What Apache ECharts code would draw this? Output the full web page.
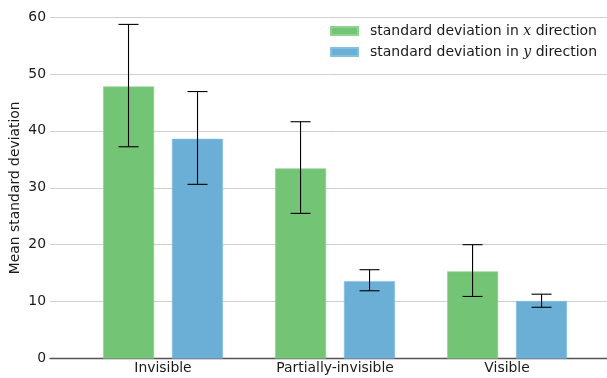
<!DOCTYPE html>
<html><head><meta charset="utf-8">
<script src="https://cdn.jsdelivr.net/npm/echarts@6/dist/echarts.min.js"></script>
<style>html,body{margin:0;padding:0;background:#fff}#c{width:607px;height:378px}</style>
</head><body><div id="c"></div>
<script>
const categories = ['Invisible', 'Partially-invisible', 'Visible'];
const meanX = [47.8, 33.4, 15.3];
const meanY = [38.6, 13.6, 10.1];
const errLowX = [37.2, 25.5, 10.9];
const errHighX = [58.7, 41.6, 20.0];
const errLowY = [30.6, 11.9, 9.0];
const errHighY = [46.9, 15.6, 11.3];
const yTicks = [0, 10, 20, 30, 40, 50, 60];

const FONT = 'DejaVu Sans';
const chart = echarts.init(document.getElementById('c'));

function errSeries(lo, hi, offset) {
  return {
    type: 'custom',
    z: 10,
    data: categories.map((c, i) => [i, lo[i], hi[i]]),
    encode: { x: 0, y: [1, 2] },
    renderItem: function (params, api) {
      const x = api.value(0);
      const pHi = api.coord([x, api.value(2)]);
      const pLo = api.coord([x, api.value(1)]);
      const cx = pHi[0] + offset;
      const st = { stroke: '#000', lineWidth: 1.1 };
      return {
        type: 'group',
        children: [
          { type: 'line', shape: { x1: cx, y1: pHi[1], x2: cx, y2: pLo[1] }, style: st },
          { type: 'line', shape: { x1: cx - 10, y1: pHi[1], x2: cx + 10, y2: pHi[1] }, style: st },
          { type: 'line', shape: { x1: cx - 10, y1: pLo[1], x2: cx + 10, y2: pLo[1] }, style: st }
        ]
      };
    }
  };
}

chart.setOption({
  animation: false,
  backgroundColor: '#fff',
  grid: { left: 50, right: 0, top: 17, bottom: 19.5, outerBoundsMode: 'none', containLabel: false },
  legend: {
    right: 5, top: 19, orient: 'vertical',
    itemWidth: 27, itemHeight: 8, itemGap: 7,
    icon: 'rect',
    data: ['x', 'y'],
    formatter: function (n) { return 'standard deviation in {i|' + n + '} direction'; },
    textStyle: {
      fontFamily: FONT, fontSize: 14, color: '#1a1a1a', padding: [0, 0, 0, 7],
      rich: { i: { fontFamily: 'DejaVu Serif', fontStyle: 'italic', fontSize: 14, color: '#1a1a1a' } }
    }
  },
  xAxis: {
    type: 'value', min: -0.657, max: 2.581,
    axisLine: { show: true, onZero: false, lineStyle: { color: '#555', width: 1.3 } },
    axisTick: { show: false },
    splitLine: { show: false },
    axisLabel: {
      customValues: [0, 1, 2],
      formatter: function (v) { return categories[Math.round(v)]; },
      fontFamily: FONT, fontSize: 13.9, color: '#1a1a1a', margin: 3
    }
  },
  yAxis: {
    type: 'value', min: 0, max: 60, interval: 10,
    name: 'Mean standard deviation', nameLocation: 'middle', nameGap: 28, nameRotate: 90,
    nameMoveOverlap: false,
    nameTextStyle: { fontFamily: FONT, fontSize: 13.9, color: '#1a1a1a' },
    axisLine: { show: false }, axisTick: { show: false },
    splitLine: { lineStyle: { color: '#cfcfcf', width: 1 } },
    axisLabel: {
      customValues: yTicks,
      fontFamily: FONT, fontSize: 13.9, color: '#1a1a1a', margin: 4
    }
  },
  series: [
    { name: 'x', type: 'bar', barWidth: 51, barGap: '35%',
      itemStyle: { color: '#74c476', borderColor: '#8fd391', borderWidth: 0.6 },
      data: categories.map((c, i) => [i, meanX[i]]) },
    { name: 'y', type: 'bar', barWidth: 51, barGap: '35%',
      itemStyle: { color: '#6baed6', borderColor: '#86bfe0', borderWidth: 0.6 },
      data: categories.map((c, i) => [i, meanY[i]]) },
    errSeries(errLowX, errHighX, -34.5),
    errSeries(errLowY, errHighY, 34.5)
  ]
});
</script></body></html>
